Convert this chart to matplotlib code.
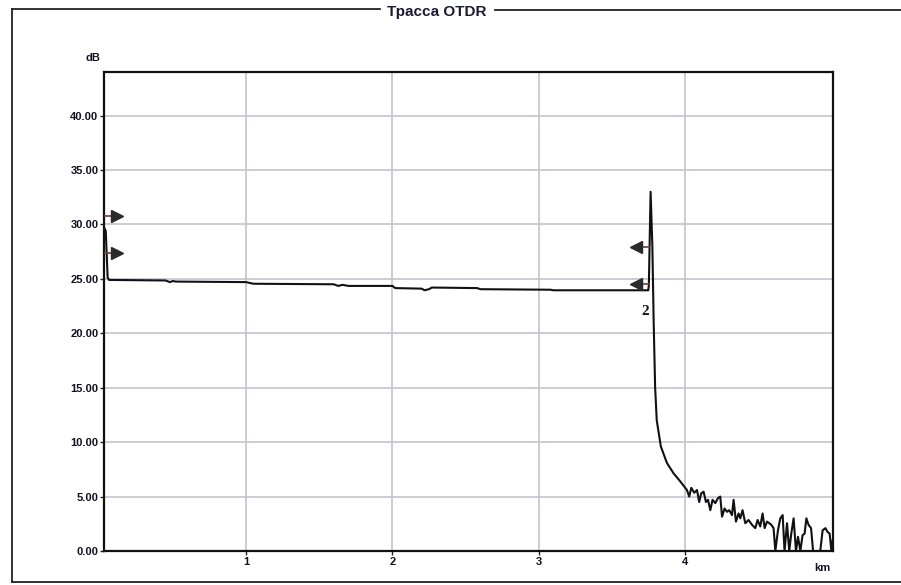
import matplotlib
matplotlib.use("Agg")
import matplotlib.pyplot as plt

# --- dados do traço OTDR ---
dist_km = [
    0.035, 0.042, 0.055, 0.065, 0.45, 0.48, 0.50, 0.52, 1.00, 1.05,
    1.60, 1.63, 1.66, 1.70, 2.00, 2.02, 2.20, 2.22, 2.25, 2.27,
    2.58, 2.60, 3.08, 3.10, 3.748, 3.752, 3.764, 3.776, 3.785, 3.795,
    3.806, 3.834, 3.875, 3.920, 3.966, 3.989, 4.012, 4.028, 4.042, 4.062,
    4.081, 4.096, 4.110, 4.126, 4.142, 4.156, 4.172, 4.187, 4.206, 4.224,
    4.240, 4.252, 4.269, 4.286, 4.301, 4.320, 4.331, 4.347, 4.365, 4.377,
    4.392, 4.411, 4.433, 4.457, 4.479, 4.495, 4.513, 4.529, 4.543, 4.559,
    4.575, 4.589, 4.604, 4.616, 4.634, 4.650, 4.666, 4.679, 4.696, 4.711,
    4.725, 4.741, 4.757, 4.771, 4.787, 4.802, 4.816, 4.828, 4.843, 4.860,
    4.874, 4.923, 4.939, 4.958, 4.973, 4.987, 4.999, 5.008,
]
nivel_db = [
    29.6, 29.4, 25.1, 24.9, 24.85, 24.7, 24.8, 24.75, 24.7, 24.55,
    24.5, 24.35, 24.45, 24.35, 24.35, 24.15, 24.1, 23.95, 24.05, 24.2,
    24.15, 24.05, 24.0, 23.95, 23.95, 24.4, 33.0, 28.0, 21.0, 15.0,
    12.0, 9.6, 8.1, 7.15, 6.4, 6.0, 5.6, 5.0, 5.8, 5.35,
    5.6, 4.5, 5.3, 5.45, 4.5, 4.7, 3.75, 4.7, 4.4, 4.85,
    5.0, 3.15, 3.9, 3.6, 3.75, 3.3, 4.7, 2.7, 3.45, 3.0,
    3.75, 2.55, 2.85, 2.4, 2.1, 2.85, 2.25, 3.45, 2.1, 2.7,
    2.55, 2.4, 2.1, 0.0, 1.9, 3.0, 3.3, 0.0, 2.55, 0.0,
    1.6, 3.0, 0.0, 1.3, 0.0, 1.45, 1.6, 3.0, 2.4, 2.1,
    0.0, 0.0, 1.9, 2.1, 1.75, 1.6, 0.0, 1.0,
]

# marcadores de cursor (dB)
cursor_esq_db = [30.8, 27.4]
cursor_dir_db = [27.9, 24.5]

y_ticks = [0, 5, 10, 15, 20, 25, 30, 35, 40]
x_ticks = [1, 2, 3, 4]

W, H = 901, 585
fig = plt.figure(figsize=(W / 100, H / 100), dpi=100)
fig.patch.set_facecolor("white")

# moldura externa com o título
bg = fig.add_axes([0, 0, 1, 1], zorder=0)
bg.set_xlim(0, W)
bg.set_ylim(H, 0)
bg.axis("off")
cor_moldura = "#222222"
bg.plot([12, 12], [9, 582], color=cor_moldura, lw=1.3)
bg.plot([12, W], [582, 582], color=cor_moldura, lw=1.3)
bg.plot([12, 380], [9, 9], color=cor_moldura, lw=1.3)
bg.plot([495, W], [10, 10], color=cor_moldura, lw=1.3)
bg.text(437, 12, "Трасса OTDR", ha="center", va="center", fontsize=11,
        fontweight="bold", family="Liberation Sans", color="#1a1a33")

ax = fig.add_axes([104 / W, 1 - 551 / H, 729 / W, 479 / H], zorder=1)
ax.plot(dist_km, nivel_db, color="#111111", lw=1.5, zorder=3)

ax.set_xlim(0.03, 5.01)
ax.set_ylim(0, 44)
ax.set_yticks(y_ticks)
ax.set_yticklabels([f"{v:.2f}" for v in y_ticks])
ax.set_xticks(x_ticks)
ax.set_xticklabels([str(v) for v in x_ticks])
ax.grid(True, color="#c3c3d0", lw=1.2)
ax.set_axisbelow(True)

for lbl in ax.get_xticklabels() + ax.get_yticklabels():
    lbl.set_fontweight("bold")
    lbl.set_family("Liberation Sans")
    lbl.set_color("#111122")
ax.tick_params(axis="both", labelsize=8, length=3, width=1, pad=1, color="#222222")
for s in ax.spines.values():
    s.set_linewidth(1.6)
    s.set_color("#111111")

ax.text(-0.015, 1.03, "dB", transform=ax.transAxes, ha="center", va="center",
        fontsize=8, fontweight="bold", family="Liberation Sans", color="#111122")
ax.text(0.986, -0.036, "km", transform=ax.transAxes, ha="center", va="center",
        fontsize=8, fontweight="bold", family="Liberation Sans", color="#111122")

# cursores
for y in cursor_esq_db:
    ax.plot([0.03, 0.09], [y, y], color="#6a4035", lw=1.2, zorder=4)
    ax.plot([0.12], [y], marker=">", ms=8, color="#2a2a2a", zorder=5)
for y in cursor_dir_db:
    ax.plot([3.69, 3.75], [y, y], color="#6a4035", lw=1.2, zorder=4)
    ax.plot([3.665], [y], marker="<", ms=8, color="#2a2a2a", zorder=5)

ax.text(3.728, 22.0, "2", ha="center", va="center", fontsize=11,
        fontweight="bold", family="Liberation Serif", color="#111122")

plt.savefig("out.png", dpi=100)
